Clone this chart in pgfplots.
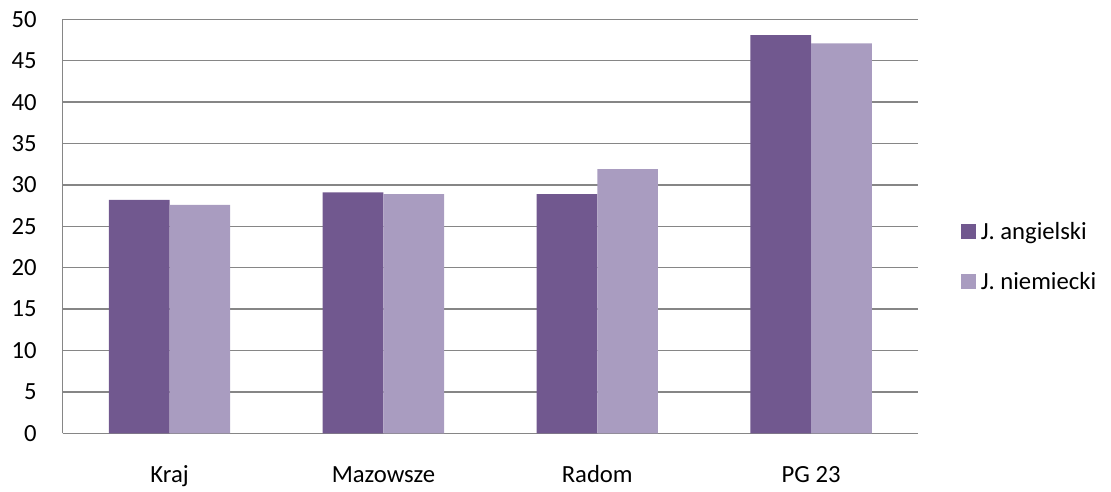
\documentclass[border=0pt]{standalone}
\usepackage{pgfplots}
\pgfplotsset{compat=1.18}
\usepackage{fontspec}
\setmainfont{Carlito}
\definecolor{angc}{RGB}{113,88,143}
\definecolor{niec}{RGB}{169,156,192}
\definecolor{gridc}{RGB}{134,134,134}
\begin{document}
\fontsize{18.5pt}{22pt}\selectfont
\begin{tikzpicture}
\useasboundingbox (-47pt,-44pt) rectangle (786.25pt,325pt);
\begin{axis}[
  at={(0,0)}, anchor=south west,
  scale only axis,
  width=641.5pt, height=310.5pt,
  ybar=0pt, bar width=45.5pt,
  xmin=-0.5, xmax=3.5,
  ymin=0, ymax=50,
  ytick={0,5,...,50},
  xtick=data,
  xticklabels={Kraj,Mazowsze,Radom,PG 23},
  axis lines=left,
  axis line style={-, draw=gridc, line width=1.1pt},
  ymajorgrids,
  grid style={draw=gridc, line width=1pt},
  major tick length=0pt,
  tick style={draw=none},
  /pgf/number format/assume math mode=true,
  ticklabel style={font=\fontsize{18.5pt}{22pt}\selectfont},
  yticklabel style={anchor=east, inner sep=0pt, xshift=-19.3pt},
  xticklabel style={anchor=base, inner sep=0pt, yshift=-37pt},
  legend style={at={(rel axis cs:1,0.4266)}, anchor=west, xshift=32pt,
    draw=none, fill=none, inner sep=0pt,
    font=\fontsize{18.5pt}{22pt}\selectfont,
    nodes={inner sep=0pt, text height=12pt, text depth=0pt},
    row sep=25.5pt,
    /tikz/every odd column/.append style={column sep=4pt}},
  legend cell align=left,
  legend image code/.code={\fill[#1] (0pt,-5.5pt) rectangle (11pt,5.5pt);},
]
\addplot[fill=angc, draw=none] coordinates {(0,28.2) (1,29.1) (2,28.9) (3,48.1)};
\addplot[fill=niec, draw=none] coordinates {(0,27.6) (1,28.9) (2,31.9) (3,47.1)};
\legend{J. angielski, J. niemiecki}
\end{axis}
\end{tikzpicture}
\end{document}
